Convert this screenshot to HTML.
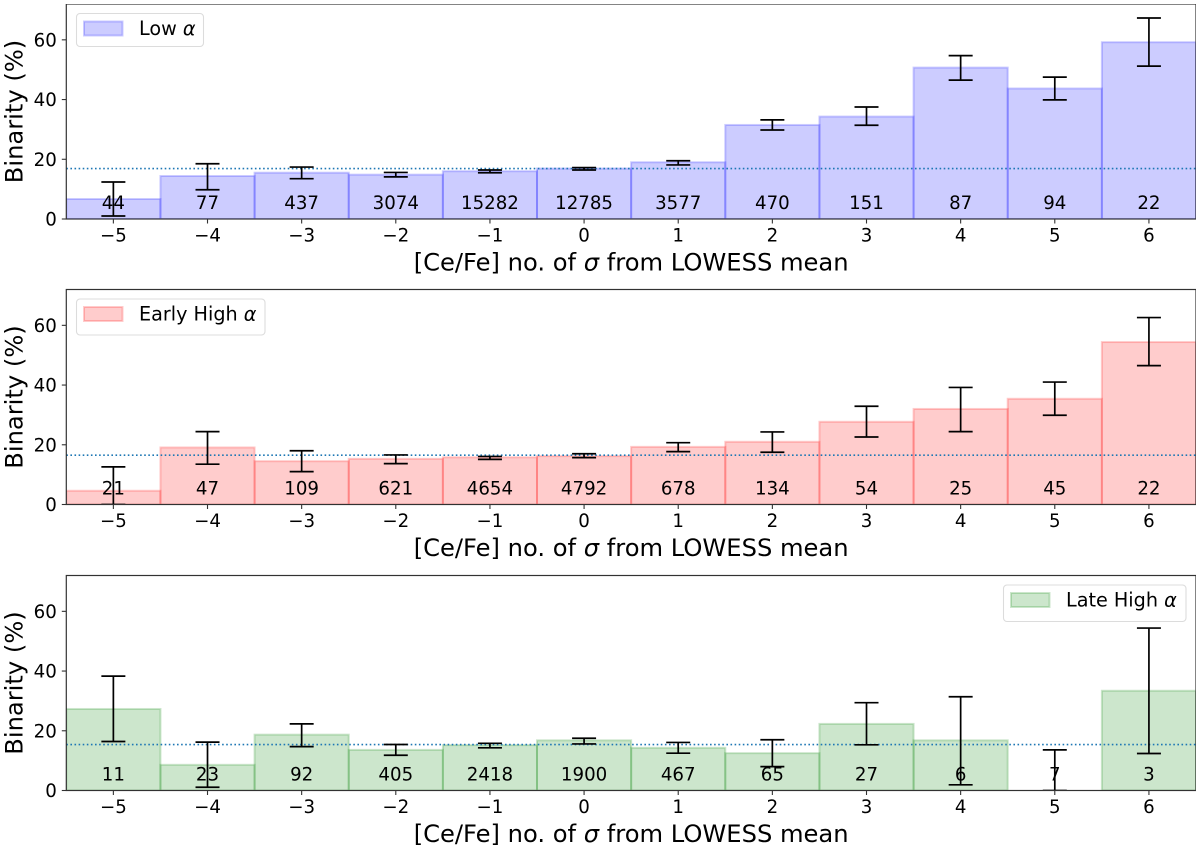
<!DOCTYPE html>
<html lang="en">
<head>
<meta charset="utf-8">
<title>Binarity vs [Ce/Fe]</title>
<style>
html,body{margin:0;padding:0;background:#fff;width:1200px;height:848px;overflow:hidden}
svg{display:block}
text{font-family:"DejaVu Sans","Liberation Sans",sans-serif;fill:#000}
</style>
</head>
<body>
<svg id="chart" xmlns="http://www.w3.org/2000/svg" width="1200" height="848" viewBox="0 0 1200 848">
<defs><filter id="soft" x="0" y="0" width="100%" height="100%"><feGaussianBlur stdDeviation="0.38"/></filter></defs>
<g id="root" filter="url(#soft)"></g>
</svg>
<script>
const categories = [-5,-4,-3,-2,-1,0,1,2,3,4,5,6];
const yTicks = [0,20,40,60];

const lowBinarity   = [6.7,14.4,15.5,14.85,16,16.9,19,31.5,34.3,50.7,43.7,59.2];
const lowErrLower   = [1,9.8,13.5,14.1,15.5,16.4,18.1,29.8,31.4,46.5,39.9,51.2];
const lowErrUpper   = [12.4,18.5,17.4,15.6,16.4,17.2,19.5,33.2,37.5,54.7,47.5,67.3];
const lowCounts     = [44,77,437,3074,15282,12785,3577,470,151,87,94,22];
const lowMean       = 16.9;

const earlyBinarity = [4.6,19.1,14.5,15.3,15.8,16.2,19.3,21,27.7,32,35.4,54.4];
const earlyErrLower = [0,13.5,11,13.7,15.1,15.7,17.7,17.5,22.6,24.4,29.9,46.5];
const earlyErrUpper = [12.6,24.4,18,16.6,16.1,17,20.7,24.3,32.9,39.2,41,62.6];
const earlyCounts   = [21,47,109,621,4654,4792,678,134,54,25,45,22];
const earlyMean     = 16.5;

const lateBinarity  = [27.3,8.6,18.7,13.6,15.2,16.8,14.3,12.5,22.3,16.8,0,33.4];
const lateErrLower  = [16.4,1.1,14.7,11.8,14.3,15.6,12.5,8,15.3,1.9,0,12.4];
const lateErrUpper  = [38.3,16.2,22.3,15.4,15.8,17.5,16.1,17,29.4,31.4,13.6,54.4];
const lateCounts    = [11,23,92,405,2418,1900,467,65,27,6,7,3];
const lateMean      = 15.4;

const NS = 'http://www.w3.org/2000/svg';
const root = document.getElementById('root');
const X0 = 66.3, X1 = 1196, Y_MAX = 72, X_MIN = -5.5, X_MAX = 6.5;

function make(parent, tag, attrs, text) {
  const n = document.createElementNS(NS, tag);
  for (const k in attrs) n.setAttribute(k, attrs[k]);
  if (text !== undefined) n.textContent = text;
  parent.appendChild(n);
  return n;
}
function minus(v) { return String(v).replace('-', '\u2212'); }

function drawPanel(p) {
  const xScale = v => X0 + (v - X_MIN) / (X_MAX - X_MIN) * (X1 - X0);
  const yScale = v => p.bottom - v / Y_MAX * (p.bottom - p.top);

  const g = make(root, 'g', {});
  
  

  const clipId = 'clip-' + p.key;
  const cp = make(g, 'clipPath', {id: clipId});
  make(cp, 'rect', {x: X0, y: p.top, width: X1 - X0, height: p.bottom - p.top});
  const plot = make(g, 'g', {'clip-path': 'url(#' + clipId + ')'});
  
  

  categories.forEach((c, i) => {
    if (p.values[i] <= 0) return;
    const r = make(plot, 'rect', {
      x: xScale(c - 0.5), y: yScale(p.values[i]),
      width: xScale(c + 0.5) - xScale(c - 0.5),
      height: yScale(0) - yScale(p.values[i]),
      fill: p.color, 'fill-opacity': 0.2,
      stroke: p.color, 'stroke-opacity': 0.2, 'stroke-width': 2
    });
    
    
  });

  const mean = make(plot, 'line', {
    x1: X0, x2: X1, y1: yScale(p.mean), y2: yScale(p.mean),
    stroke: '#1f77b4', 'stroke-width': 1.6, 'stroke-dasharray': '1.6 2.5'
  });
  
  

  categories.forEach((c, i) => {
    const eb = make(plot, 'g', {stroke: '#000', 'stroke-width': 1.7});
    
    
    const x = xScale(c), lo = yScale(p.lower[i]), hi = yScale(p.upper[i]);
    make(eb, 'line', {x1: x, x2: x, y1: lo, y2: hi});
    make(eb, 'line', {x1: x - 12, x2: x + 12, y1: lo, y2: lo});
    make(eb, 'line', {x1: x - 12, x2: x + 12, y1: hi, y2: hi});
  });

  categories.forEach((c, i) => {
    const t = make(g, 'text', {x: xScale(c), y: yScale(3.3), 'text-anchor': 'middle', 'font-size': 18.2}, p.counts[i]);
    
    
  });

  const frame = make(g, 'rect', {x: X0, y: p.top, width: X1 - X0, height: p.bottom - p.top, fill: 'none', stroke: '#333', 'stroke-width': 1.2});
  
  

  categories.forEach(c => {
    make(g, 'line', {x1: xScale(c), x2: xScale(c), y1: p.bottom, y2: p.bottom + 4.5, stroke: '#333', 'stroke-width': 1.1});
    const t = make(g, 'text', {x: xScale(c), y: p.bottom + 22.5, 'text-anchor': 'middle', 'font-size': 18.2}, minus(c));
    
    
  });
  yTicks.forEach(v => {
    make(g, 'line', {x1: X0 - 4.5, x2: X0, y1: yScale(v), y2: yScale(v), stroke: '#333', 'stroke-width': 1.1});
    const t = make(g, 'text', {x: 56.8, y: yScale(v) + 6.6, 'text-anchor': 'end', 'font-size': 18.2}, v);
    
    
  });

  const xl = make(g, 'text', {x: (X0 + X1) / 2, y: p.bottom + 51.5, 'text-anchor': 'middle', 'font-size': 24.2});
  
  
  make(xl, 'tspan', {}, '[Ce/Fe] no. of ');
  make(xl, 'tspan', {'font-style': 'italic'}, '\u03c3');
  make(xl, 'tspan', {}, ' from LOWESS mean');

  const cy = (p.top + p.bottom) / 2;
  const yl = make(g, 'text', {x: 0, y: 0, transform: 'translate(22.5 ' + cy + ') rotate(-90)', 'text-anchor': 'middle', 'font-size': 24.2}, 'Binarity (%)');
  
  

  const lg = make(g, 'g', {});
  
  
  make(lg, 'rect', {x: p.lx, y: p.ly, width: p.lw, height: p.lh, rx: 3.5, fill: '#fff', 'fill-opacity': 0.85, stroke: '#dcdcdc', 'stroke-width': 1.1});
  const sw = make(lg, 'rect', {x: p.lx + 7.5, y: p.ly + 8, width: 38.5, height: 14, fill: p.color, 'fill-opacity': 0.2, stroke: p.color, 'stroke-opacity': 0.2, 'stroke-width': 2});
  
  
  const lt = make(lg, 'text', {x: p.lx + 62.5, y: p.ly + 21.5, 'font-size': 19.2});
  
  
  make(lt, 'tspan', {}, p.label + ' ');
  make(lt, 'tspan', {'font-style': 'italic'}, '\u03b1');
}

drawPanel({key:'low', label:'Low', color:'#0000ff', top:4, bottom:219, values:lowBinarity, lower:lowErrLower, upper:lowErrUpper, counts:lowCounts, mean:lowMean, lx:76.5, ly:13.5, lw:127, lh:33});
drawPanel({key:'early-high', label:'Early High', color:'#ff0000', top:289.5, bottom:504.5, values:earlyBinarity, lower:earlyErrLower, upper:earlyErrUpper, counts:earlyCounts, mean:earlyMean, lx:76.5, ly:299, lw:188.5, lh:36});
drawPanel({key:'late-high', label:'Late High', color:'#008000', top:575.5, bottom:790.5, values:lateBinarity, lower:lateErrLower, upper:lateErrUpper, counts:lateCounts, mean:lateMean, lx:1003.5, ly:585, lw:182.5, lh:36.5});
</script>
</body>
</html>
